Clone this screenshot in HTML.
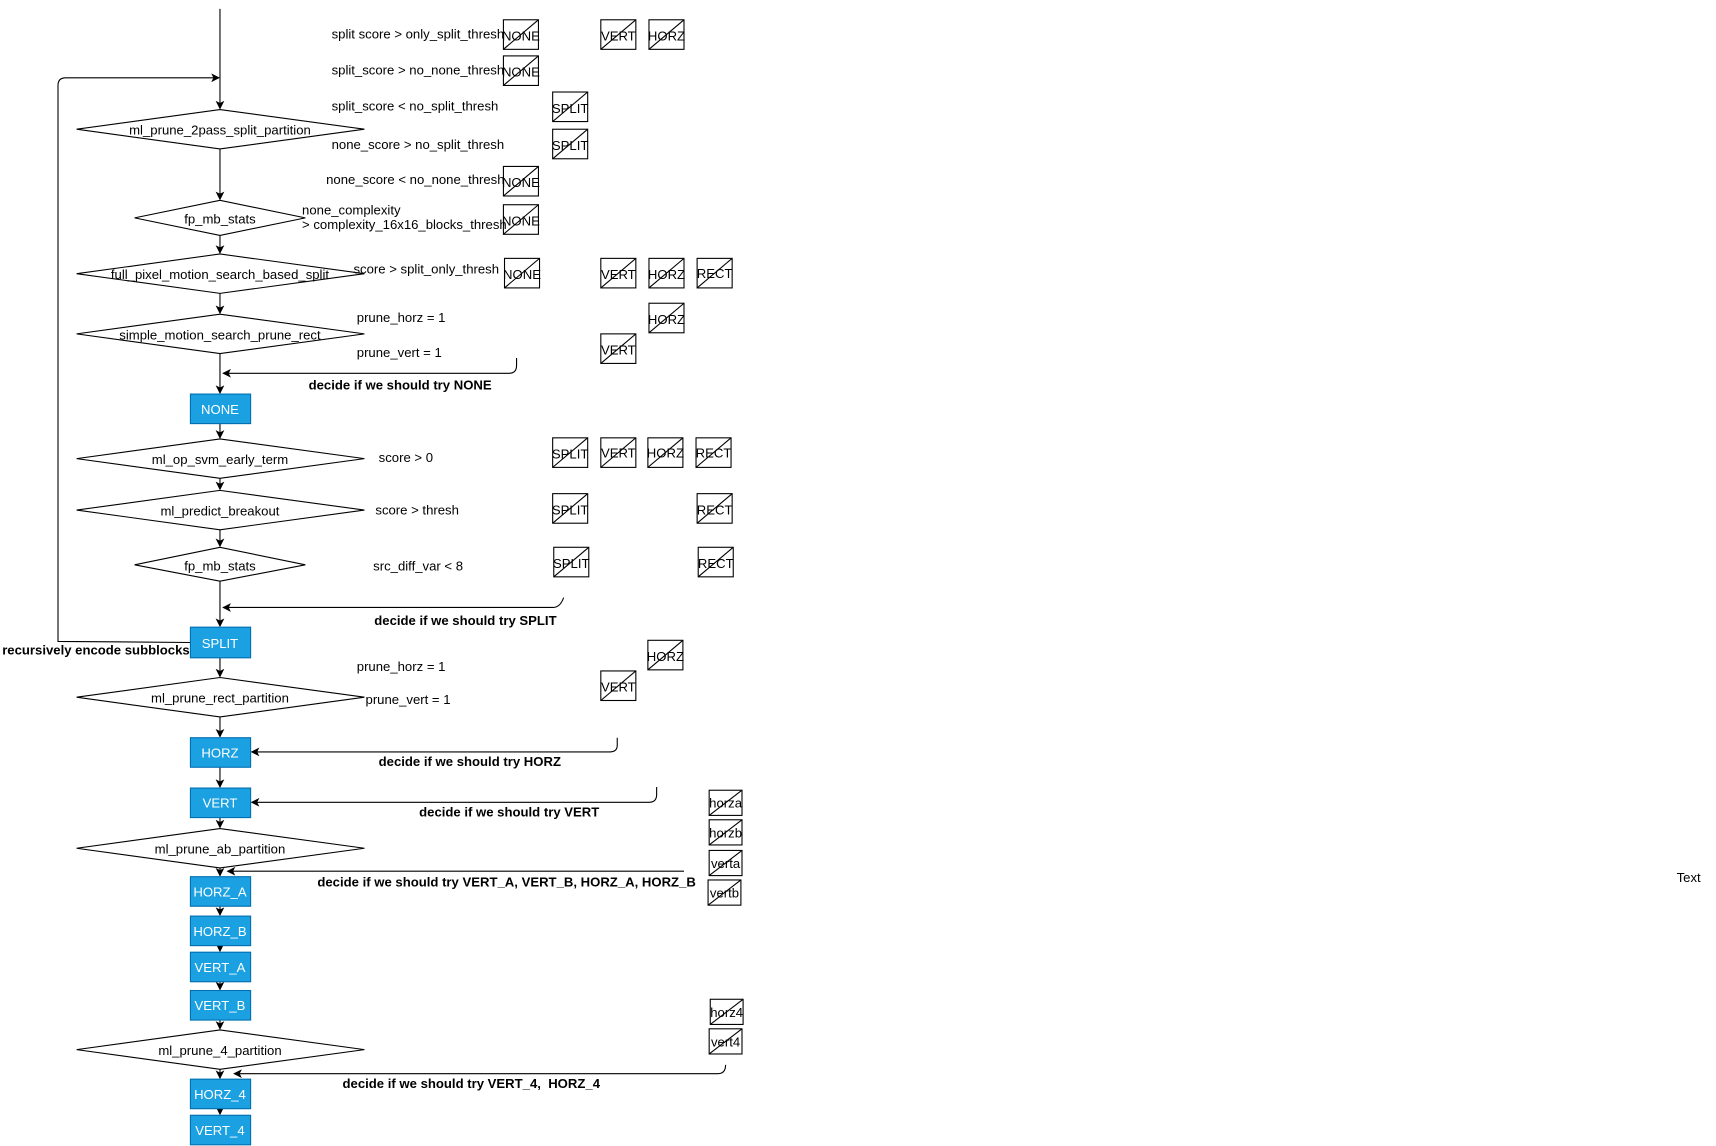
<!DOCTYPE html>
<html><head><meta charset="utf-8"><style>
html,body{margin:0;padding:0;background:#fff;}
svg{display:block;}
text{font-family:"Liberation Sans",Arial,sans-serif;font-size:12px;fill:#000;}
.b{font-weight:bold;}
.w{fill:#fff;}
</style></head><body>
<svg width="1716" height="1146" viewBox="0 0 1568 1047" xmlns="http://www.w3.org/2000/svg">
<defs>
<marker id="a" markerWidth="8" markerHeight="8" refX="7" refY="4" orient="auto" markerUnits="userSpaceOnUse">
<path d="M0,0 L8,4 L0,8 L2,4 Z" fill="#000"/>
</marker>
</defs>
<g stroke="#000" stroke-width="1" fill="none">
<!-- main vertical arrows -->
<line x1="201" y1="8" x2="201" y2="99" marker-end="url(#a)"/>
<path d="M174,587 L53,586 L53,78 Q53,71 60,71 L200,71" marker-end="url(#a)"/>
<line x1="201" y1="136" x2="201" y2="182" marker-end="url(#a)"/>
<line x1="201" y1="215" x2="201" y2="231" marker-end="url(#a)"/>
<line x1="201" y1="268" x2="201" y2="286" marker-end="url(#a)"/>
<line x1="201" y1="323" x2="201" y2="359" marker-end="url(#a)"/>
<line x1="201" y1="387" x2="201" y2="400" marker-end="url(#a)"/>
<line x1="201" y1="437" x2="201" y2="447" marker-end="url(#a)"/>
<line x1="201" y1="484" x2="201" y2="499" marker-end="url(#a)"/>
<line x1="201" y1="531" x2="201" y2="572" marker-end="url(#a)"/>
<line x1="201" y1="601" x2="201" y2="618" marker-end="url(#a)"/>
<line x1="201" y1="655" x2="201" y2="673" marker-end="url(#a)"/>
<line x1="201" y1="701" x2="201" y2="719" marker-end="url(#a)"/>
<line x1="201" y1="747" x2="201" y2="756" marker-end="url(#a)"/>
<line x1="201" y1="793" x2="201" y2="800" marker-end="url(#a)"/>
<line x1="201" y1="828" x2="201" y2="836" marker-end="url(#a)"/>
<line x1="201" y1="864" x2="201" y2="869" marker-end="url(#a)"/>
<line x1="201" y1="897" x2="201" y2="904" marker-end="url(#a)"/>
<line x1="201" y1="932" x2="201" y2="940" marker-end="url(#a)"/>
<line x1="201" y1="977" x2="201" y2="985" marker-end="url(#a)"/>
<line x1="201" y1="1013" x2="201" y2="1018" marker-end="url(#a)"/>
<!-- side connectors -->
<path d="M472,327 L472,334 Q472,341 465,341 L204,341" marker-end="url(#a)"/>
<path d="M515,546 Q512,555 505,555 L204,555" marker-end="url(#a)"/>
<path d="M564,674 L564,681 Q564,687 557,687 L230,687" marker-end="url(#a)"/>
<path d="M600,719 L600,726 Q600,733 593,733 L230,733" marker-end="url(#a)"/>
<path d="M625,796 L208,796" marker-end="url(#a)"/>
<path d="M663,973 Q663,981 656,981 L214,981" marker-end="url(#a)"/>
<!-- diamonds -->
<polygon points="70,118 201,100 333,118 201,136" fill="#fff"/>
<polygon points="123,199 201,183 279,199 201,215" fill="#fff"/>
<polygon points="70,250 201,232 333,250 201,268" fill="#fff"/>
<polygon points="70,305 201,287 333,305 201,323" fill="#fff"/>
<polygon points="70,419 201,401 333,419 201,437" fill="#fff"/>
<polygon points="70,466 201,448 333,466 201,484" fill="#fff"/>
<polygon points="123,516 201,500 279,516 201,531" fill="#fff"/>
<polygon points="70,637 201,619 333,637 201,655" fill="#fff"/>
<polygon points="70,775 201,757 333,775 201,793" fill="#fff"/>
<polygon points="70,959 201,941 333,959 201,977" fill="#fff"/>
</g>
<!-- blue boxes -->
<g fill="#1ba1e2" stroke="#006eaf" stroke-width="1">
<rect x="174" y="360" width="55" height="27"/>
<rect x="174" y="573" width="55" height="28"/>
<rect x="174" y="674" width="55" height="27"/>
<rect x="174" y="720" width="55" height="27"/>
<rect x="174" y="801" width="55" height="27"/>
<rect x="174" y="837" width="55" height="27"/>
<rect x="174" y="870" width="55" height="27"/>
<rect x="174" y="905" width="55" height="27"/>
<rect x="174" y="986" width="55" height="27"/>
<rect x="174" y="1019" width="55" height="27"/>
</g>
<g text-anchor="middle" class="w">
<text x="201" y="378" class="w">NONE</text>
<text x="201" y="592" class="w">SPLIT</text>
<text x="201" y="692" class="w">HORZ</text>
<text x="201" y="738" class="w">VERT</text>
<text x="201" y="819" class="w">HORZ_A</text>
<text x="201" y="855" class="w">HORZ_B</text>
<text x="201" y="888" class="w">VERT_A</text>
<text x="201" y="923" class="w">VERT_B</text>
<text x="201" y="1004" class="w">HORZ_4</text>
<text x="201" y="1037" class="w">VERT_4</text>
</g>
<!-- diamond labels -->
<g text-anchor="middle">
<text x="201" y="123">ml_prune_2pass_split_partition</text>
<text x="201" y="204">fp_mb_stats</text>
<text x="201" y="255">full_pixel_motion_search_based_split</text>
<text x="201" y="310">simple_motion_search_prune_rect</text>
<text x="201" y="424">ml_op_svm_early_term</text>
<text x="201" y="471">ml_predict_breakout</text>
<text x="201" y="521">fp_mb_stats</text>
<text x="201" y="642">ml_prune_rect_partition</text>
<text x="201" y="780">ml_prune_ab_partition</text>
<text x="201" y="964">ml_prune_4_partition</text>
</g>
<!-- condition labels -->
<text x="303" y="35">split score &gt; only_split_thresh</text>
<text x="303" y="68">split_score &gt; no_none_thresh</text>
<text x="303" y="101">split_score &lt; no_split_thresh</text>
<text x="303" y="136">none_score &gt; no_split_thresh</text>
<text x="298" y="168">none_score &lt; no_none_thresh</text>
<text x="276" y="196">none_complexity</text>
<text x="276" y="209">&gt; complexity_16x16_blocks_thresh</text>
<text x="323" y="250">score &gt; split_only_thresh</text>
<text x="326" y="294">prune_horz = 1</text>
<text x="326" y="326">prune_vert = 1</text>
<text x="346" y="422">score &gt; 0</text>
<text x="343" y="470">score &gt; thresh</text>
<text x="341" y="521">src_diff_var &lt; 8</text>
<text x="326" y="613">prune_horz = 1</text>
<text x="334" y="643">prune_vert = 1</text>
<text x="1532" y="806">Text</text>
<!-- bold labels -->
<text class="b" x="282" y="356">decide if we should try NONE</text>
<text class="b" x="342" y="571">decide if we should try SPLIT</text>
<text class="b" x="2" y="598">recursively encode subblocks</text>
<text class="b" x="346" y="700">decide if we should try HORZ</text>
<text class="b" x="383" y="746">decide if we should try VERT</text>
<text class="b" x="290" y="810">decide if we should try VERT_A, VERT_B, HORZ_A, HORZ_B</text>
<text class="b" x="313" y="994">decide if we should try VERT_4,&#160; HORZ_4</text>
<!-- crossed boxes -->
<g id="xb" stroke="#000" fill="none">
<rect x="460" y="18" width="32" height="27"/><line x1="460" y1="45" x2="492" y2="18"/>
<rect x="549" y="18" width="32" height="27"/><line x1="549" y1="45" x2="581" y2="18"/>
<rect x="593" y="18" width="32" height="27"/><line x1="593" y1="45" x2="625" y2="18"/>
<rect x="460" y="51" width="32" height="27"/><line x1="460" y1="78" x2="492" y2="51"/>
<rect x="505" y="84" width="32" height="27"/><line x1="505" y1="111" x2="537" y2="84"/>
<rect x="505" y="118" width="32" height="27"/><line x1="505" y1="145" x2="537" y2="118"/>
<rect x="460" y="152" width="32" height="27"/><line x1="460" y1="179" x2="492" y2="152"/>
<rect x="460" y="187" width="32" height="27"/><line x1="460" y1="214" x2="492" y2="187"/>
<rect x="461" y="236" width="32" height="27"/><line x1="461" y1="263" x2="493" y2="236"/>
<rect x="549" y="236" width="32" height="27"/><line x1="549" y1="263" x2="581" y2="236"/>
<rect x="593" y="236" width="32" height="27"/><line x1="593" y1="263" x2="625" y2="236"/>
<rect x="637" y="236" width="32" height="27"/><line x1="637" y1="263" x2="669" y2="236"/>
<rect x="593" y="277" width="32" height="27"/><line x1="593" y1="304" x2="625" y2="277"/>
<rect x="549" y="305" width="32" height="27"/><line x1="549" y1="332" x2="581" y2="305"/>
<rect x="505" y="400" width="32" height="27"/><line x1="505" y1="427" x2="537" y2="400"/>
<rect x="549" y="400" width="32" height="27"/><line x1="549" y1="427" x2="581" y2="400"/>
<rect x="592" y="400" width="32" height="27"/><line x1="592" y1="427" x2="624" y2="400"/>
<rect x="636" y="400" width="32" height="27"/><line x1="636" y1="427" x2="668" y2="400"/>
<rect x="505" y="451" width="32" height="27"/><line x1="505" y1="478" x2="537" y2="451"/>
<rect x="637" y="451" width="32" height="27"/><line x1="637" y1="478" x2="669" y2="451"/>
<rect x="506" y="500" width="32" height="27"/><line x1="506" y1="527" x2="538" y2="500"/>
<rect x="638" y="500" width="32" height="27"/><line x1="638" y1="527" x2="670" y2="500"/>
<rect x="592" y="585" width="32" height="27"/><line x1="592" y1="612" x2="624" y2="585"/>
<rect x="549" y="613" width="32" height="27"/><line x1="549" y1="640" x2="581" y2="613"/>
<rect x="648" y="722" width="30" height="23"/><line x1="648" y1="745" x2="678" y2="722"/>
<rect x="648" y="749" width="30" height="23"/><line x1="648" y1="772" x2="678" y2="749"/>
<rect x="648" y="777" width="30" height="23"/><line x1="648" y1="800" x2="678" y2="777"/>
<rect x="647" y="804" width="30" height="23"/><line x1="647" y1="827" x2="677" y2="804"/>
<rect x="649" y="913" width="30" height="23"/><line x1="649" y1="936" x2="679" y2="913"/>
<rect x="648" y="940" width="30" height="23"/><line x1="648" y1="963" x2="678" y2="940"/>
</g>
<g text-anchor="middle">
<text x="476" y="37">NONE</text><text x="565" y="37">VERT</text><text x="609" y="37">HORZ</text>
<text x="476" y="70">NONE</text>
<text x="521" y="103">SPLIT</text>
<text x="521" y="137">SPLIT</text>
<text x="476" y="171">NONE</text>
<text x="476" y="206">NONE</text>
<text x="477" y="255">NONE</text><text x="565" y="255">VERT</text><text x="609" y="255">HORZ</text><text x="653" y="254">RECT</text>
<text x="609" y="296">HORZ</text>
<text x="565" y="324">VERT</text>
<text x="521" y="419">SPLIT</text><text x="565" y="418">VERT</text><text x="608" y="418">HORZ</text><text x="652" y="418">RECT</text>
<text x="521" y="470">SPLIT</text><text x="653" y="470">RECT</text>
<text x="522" y="519">SPLIT</text><text x="654" y="519">RECT</text>
<text x="608" y="604">HORZ</text>
<text x="565" y="632">VERT</text>
<text x="663" y="738">horza</text>
<text x="663" y="765">horzb</text>
<text x="663" y="793">verta</text>
<text x="662" y="820">vertb</text>
<text x="664" y="929">horz4</text>
<text x="663" y="956">vert4</text>
</g>
</svg>
</body></html>
